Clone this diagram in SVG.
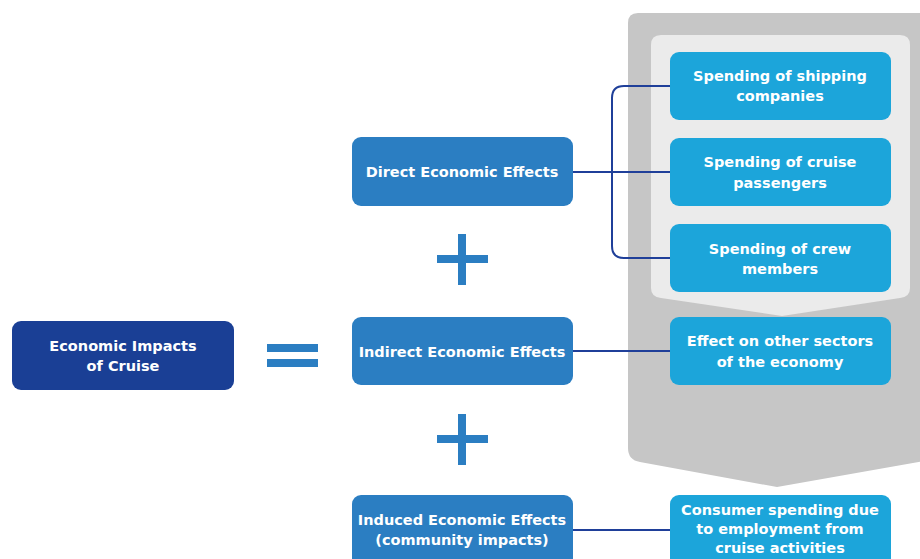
<svg xmlns="http://www.w3.org/2000/svg" width="920" height="559" viewBox="0 0 920 559">
<style>
.t{font-family:"DejaVu Sans","Liberation Sans",sans-serif;font-weight:bold;font-size:14.5px;fill:#ffffff;text-anchor:middle}
.mid{fill:#2b7ec2}
.rt{fill:#1ca5da}
.dk{fill:#1a3f95}
.sym{fill:#2b7ec2}
.con{fill:none;stroke:#1f3f99;stroke-width:2}
</style>
<rect width="920" height="559" fill="#ffffff"/>
<g id="background">
<path d="M638,13 H930 V460 L777,487 L640,462 Q628,460 628,448 V23 Q628,13 638,13 Z" fill="#c6c6c6"/>
<path d="M661,35 H900 Q910,35 910,45 V288 Q910,297 900,298 L782,316 L661,298 Q651,297 651,288 V45 Q651,35 661,35 Z" fill="#ebebeb"/>
</g>
<g id="connectors">
<path class="con" d="M573,172 H670"/>
<path class="con" d="M670,86 H624 Q612,86 612,98 V246 Q612,258 624,258 H670"/>
<path class="con" d="M573,351 H670"/>
<path class="con" d="M573,530 H670"/>
</g>
<g id="economic-impacts">
<rect class="dk" x="12" y="321" width="222" height="69" rx="9"/>
<text class="t" x="123" y="351">Economic Impacts</text>
<text class="t" x="123" y="371">of Cruise</text>
</g>
<g id="equals">
<rect class="sym" x="267" y="344" width="51" height="8"/>
<rect class="sym" x="267" y="359" width="51" height="8"/>
</g>
<g id="plus1">
<rect class="sym" x="437" y="255" width="51" height="8"/>
<rect class="sym" x="458" y="234" width="8" height="51"/>
</g>
<g id="plus2">
<rect class="sym" x="437" y="435" width="51" height="8"/>
<rect class="sym" x="458" y="414" width="8" height="51"/>
</g>
<g id="direct">
<rect class="mid" x="352" y="137" width="221" height="69" rx="9"/>
<text class="t" x="462" y="177">Direct Economic Effects</text>
</g>
<g id="indirect">
<rect class="mid" x="352" y="317" width="221" height="68" rx="9"/>
<text class="t" x="462" y="357">Indirect Economic Effects</text>
</g>
<g id="induced">
<rect class="mid" x="352" y="495" width="221" height="80" rx="9"/>
<text class="t" x="462" y="525">Induced Economic Effects</text>
<text class="t" x="462" y="545">(community impacts)</text>
</g>
<g id="shipping">
<rect class="rt" x="670" y="52" width="221" height="68" rx="9"/>
<text class="t" x="780" y="81">Spending of shipping</text>
<text class="t" x="780" y="101">companies</text>
</g>
<g id="passengers">
<rect class="rt" x="670" y="138" width="221" height="68" rx="9"/>
<text class="t" x="780" y="167">Spending of cruise</text>
<text class="t" x="780" y="188">passengers</text>
</g>
<g id="crew">
<rect class="rt" x="670" y="224" width="221" height="68" rx="9"/>
<text class="t" x="780" y="254">Spending of crew</text>
<text class="t" x="780" y="274">members</text>
</g>
<g id="other-sectors">
<rect class="rt" x="670" y="317" width="221" height="68" rx="9"/>
<text class="t" x="780" y="346">Effect on other sectors</text>
<text class="t" x="780" y="367">of the economy</text>
</g>
<g id="consumer">
<rect class="rt" x="670" y="495" width="221" height="80" rx="9"/>
<text class="t" x="780" y="515">Consumer spending due</text>
<text class="t" x="780" y="534">to employment from</text>
<text class="t" x="780" y="553">cruise activities</text>
</g>
</svg>
